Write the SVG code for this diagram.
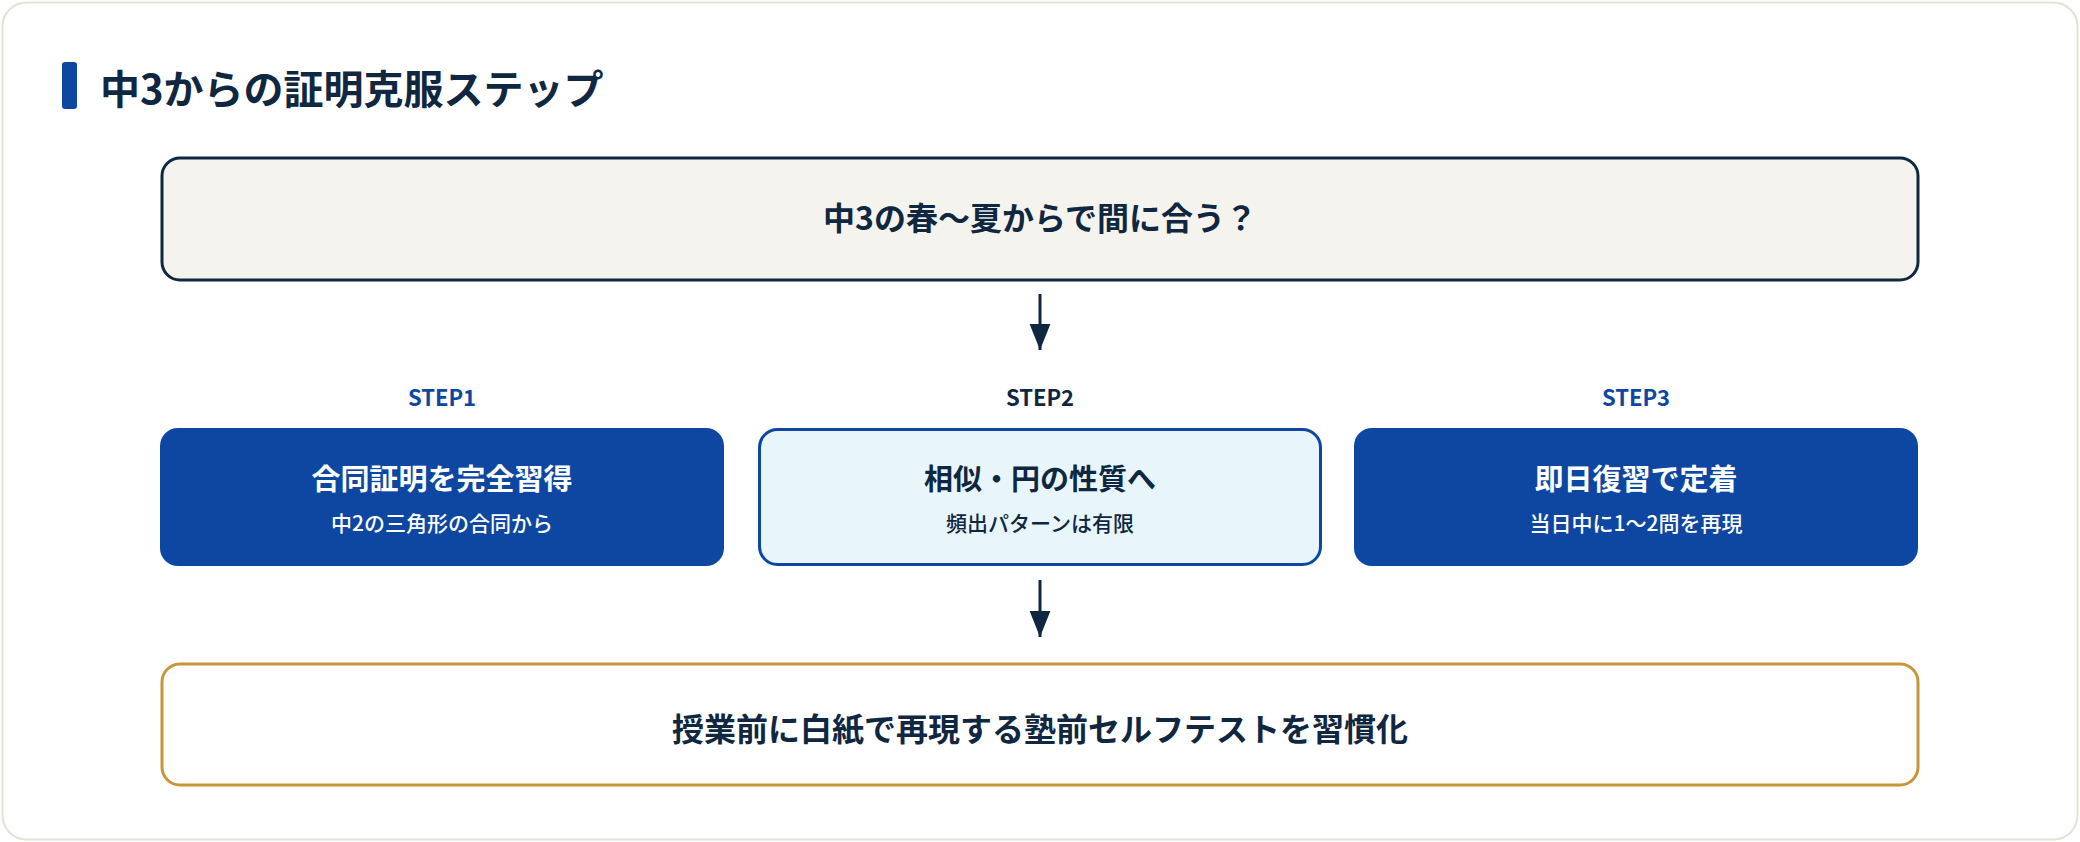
<svg xmlns="http://www.w3.org/2000/svg" width="2080" height="842" viewBox="0 0 2080 842">
<style>
text{font-family:"Noto Sans CJK JP","Noto Sans",sans-serif;font-weight:700;text-anchor:middle}
.dark{fill:#0f2740}.blue{fill:#0d47a1}.w{fill:#fff}
.big{font-size:32px}.t{font-size:29px}.s{font-size:21px;font-weight:500}.st{font-size:22px}
.conn{stroke:#0f2740;stroke-width:3;fill:none}
</style>
<defs><marker id="ah" markerWidth="10" markerHeight="10" refX="5" refY="5" orient="auto" markerUnits="userSpaceOnUse" viewBox="0 0 10 10"><path d="M0,0L10,5L0,10z" fill="#0f2740"/></marker>
<marker id="a" viewBox="0 0 10 10" refX="10" refY="5" markerWidth="26" markerHeight="26" markerUnits="userSpaceOnUse" orient="auto"><path d="M0,1L10,5L0,9z" fill="#0f2740"/></marker></defs>
<rect x="2.5" y="2.5" width="2075" height="837" rx="24" fill="#fff" stroke="#e4e1d6" stroke-width="2"/>
<rect x="62" y="62" width="15" height="47" rx="3" fill="#0d47a1"/>
<text x="100" y="104" class="dark" style="font-size:40px;text-anchor:start">中3からの証明克服ステップ</text>
<g id="connectors">
<line class="conn" x1="1040" y1="294" x2="1040" y2="350" marker-end="url(#a)"/>
<line class="conn" x1="1040" y1="580" x2="1040" y2="637" marker-end="url(#a)"/>
</g>
<g id="q"><rect x="162" y="158" width="1756" height="122" rx="18" fill="#f5f3ee" stroke="#0f2740" stroke-width="3"/>
<text x="1040" y="230" class="dark big">中3の春〜夏からで間に合う？</text></g>
<g id="step1"><text x="442" y="406" class="blue st">STEP1</text>
<rect x="160" y="428" width="564" height="138" rx="18" fill="#0d47a1"/>
<text x="442" y="490" class="w t">合同証明を完全習得</text><text x="442" y="531" class="w s">中2の三角形の合同から</text></g>
<g id="step2"><text x="1040" y="406" class="dark st">STEP2</text>
<rect x="759.5" y="429.5" width="561" height="135" rx="18" fill="#e8f6fc" stroke="#0d47a1" stroke-width="3"/>
<text x="1040" y="490" class="dark t">相似・円の性質へ</text><text x="1040" y="531" class="dark s">頻出パターンは有限</text></g>
<g id="step3"><text x="1636" y="406" class="blue st">STEP3</text>
<rect x="1354" y="428" width="564" height="138" rx="18" fill="#0d47a1"/>
<text x="1636" y="490" class="w t">即日復習で定着</text><text x="1636" y="531" class="w s">当日中に1〜2問を再現</text></g>
<g id="goal"><rect x="162" y="664" width="1756" height="121" rx="18" fill="#fff" stroke="#c8963a" stroke-width="3"/>
<text x="1040" y="741" class="dark big">授業前に白紙で再現する塾前セルフテストを習慣化</text></g>
</svg>
